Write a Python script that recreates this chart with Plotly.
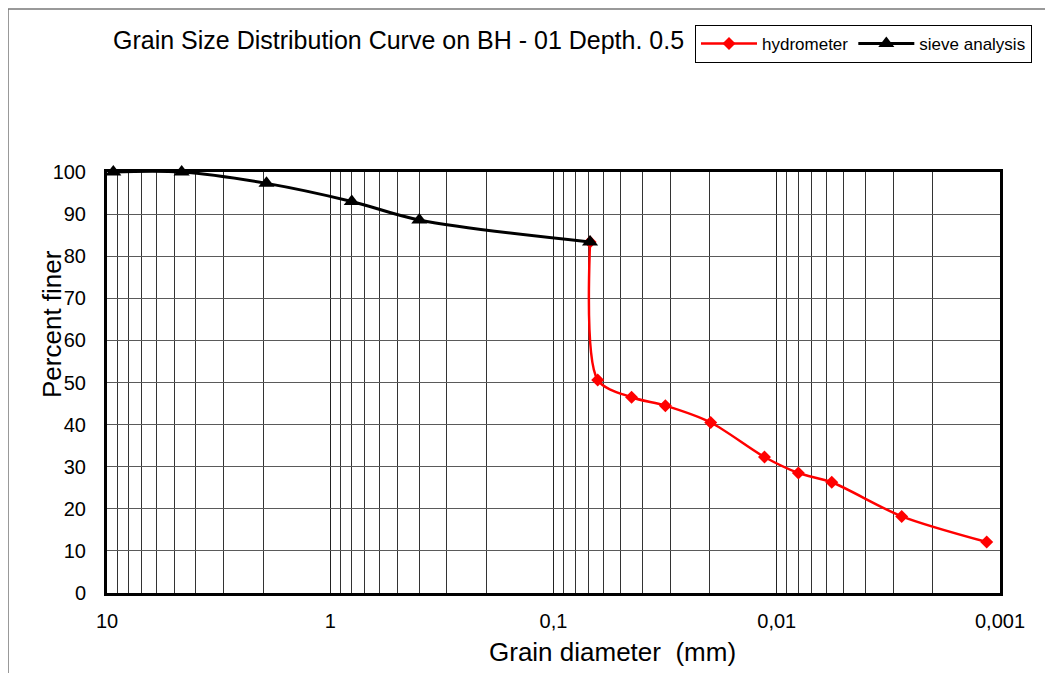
import plotly.graph_objects as go

# ---- data ----
sieve_size_mm = [9.37, 4.63, 1.93, 0.801, 0.399, 0.0686]
sieve_finer = [100.0, 100.0, 97.3, 93.0, 88.6, 83.4]

hydro_size_mm = [0.0686, 0.0634, 0.0447, 0.03155, 0.01976, 0.01135, 0.0080, 0.00567, 0.002756, 0.001147]
hydro_finer = [83.4, 50.6, 46.5, 44.5, 40.5, 32.3, 28.5, 26.3, 18.2, 12.1]

x_tick_vals = [10, 1, 0.1, 0.01, 0.001]
x_tick_text = ["10", "1", "0,1", "0,01", "0,001"]
x_minor_vals = [m * 10 ** e for e in range(-3, 1) for m in range(2, 10)]

title_text = "Grain Size Distribution Curve on BH - 01 Depth. 0.5"
x_title = "Grain diameter\u00a0 (mm)"
y_title = "Percent finer"

FONT = "Liberation Sans, Arial, sans-serif"

# page body has an 8px margin; target window coordinates are shifted by OFF
OFF = 8
W, H = 1053 - OFF, 673 - OFF
L, R, T, B = 107 - OFF, 1000 - OFF, 172 - OFF, 593 - OFF
pw, ph = R - L, B - T

def px_x(p):
    return (p - OFF - L) / pw

def px_y(p):
    return (B - (p - OFF)) / ph

fig = go.Figure()

fig.add_trace(go.Scatter(
    x=hydro_size_mm, y=hydro_finer, mode="lines+markers", name="hydrometer",
    line=dict(color="#ff0000", width=2.5, shape="spline", smoothing=0.8),
    marker=dict(symbol="diamond", size=10, color="#ff0000"),
    cliponaxis=False,
))
fig.add_trace(go.Scatter(
    x=sieve_size_mm, y=sieve_finer, mode="lines+markers", name="sieve analysis",
    line=dict(color="#000000", width=3, shape="spline", smoothing=1),
    marker=dict(symbol="triangle-up", size=14, color="#000000"),
    cliponaxis=False,
))

fig.update_layout(
    width=W, height=H,
    margin=dict(l=L, r=W - R, t=T, b=H - B),
    paper_bgcolor="white", plot_bgcolor="white",
    font=dict(family=FONT, color="black"),
    showlegend=True,
    legend=dict(
        orientation="h", x=px_x(695), y=px_y(25), xanchor="left", yanchor="top",
        bordercolor="black", borderwidth=1, bgcolor="white",
        font=dict(size=17, family=FONT), itemwidth=56, tracegroupgap=0,
    ),
    xaxis=dict(
        type="log", range=[1, -3],
        tickmode="array", tickvals=x_tick_vals, ticktext=x_tick_text,
        tickfont=dict(size=20), ticks="", ticklabelstandoff=8,
        showgrid=True, gridcolor="#222222", gridwidth=1,
        minor=dict(tickmode="array", tickvals=x_minor_vals, showgrid=True,
                   gridcolor="#333333", gridwidth=1, ticks=""),
        showline=True, linecolor="black", linewidth=3, mirror=True,
        zeroline=False,
    ),
    yaxis=dict(
        range=[0, 100], dtick=10, tick0=0,
        tickfont=dict(size=20), ticks="", ticklabelstandoff=14,
        showgrid=True, gridcolor="#5a5a5a", gridwidth=1.2,
        showline=True, linecolor="black", linewidth=3, mirror=True,
        zeroline=False,
    ),
    annotations=[
        dict(text=title_text, xref="paper", yref="paper", x=px_x(111), y=px_y(40),
             xanchor="left", yanchor="middle", showarrow=False,
             font=dict(size=25, family=FONT)),
        dict(text=x_title, xref="paper", yref="paper", x=px_x(612), y=px_y(652),
             xanchor="center", yanchor="middle", showarrow=False,
             font=dict(size=26, family=FONT)),
        dict(text=y_title, xref="paper", yref="paper", x=px_x(52), y=px_y(324),
             xanchor="center", yanchor="middle", showarrow=False, textangle=-90,
             font=dict(size=26, family=FONT)),
    ],
    shapes=[
        dict(type="line", xref="paper", yref="paper", x0=px_x(8), x1=px_x(8),
             y0=px_y(680), y1=px_y(9), line=dict(color="#777777", width=1.5)),
        dict(type="line", xref="paper", yref="paper", x0=px_x(8), x1=px_x(1060),
             y0=px_y(9), y1=px_y(9), line=dict(color="#777777", width=1.5)),
    ],
)

fig.write_html("out.html")
